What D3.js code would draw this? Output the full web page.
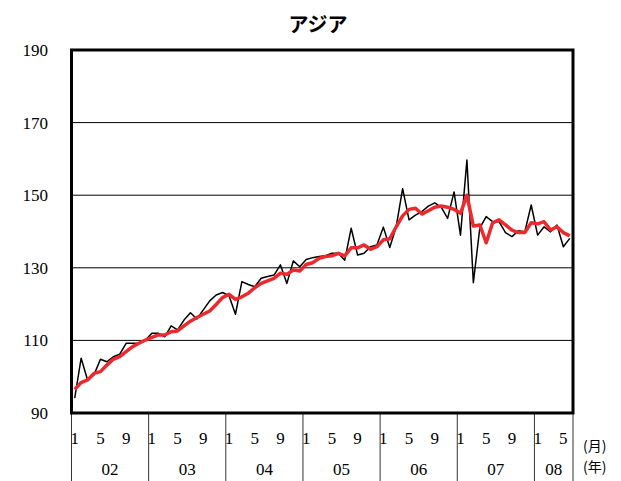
<!DOCTYPE html>
<html>
<head>
<meta charset="utf-8">
<script src="https://cdn.jsdelivr.net/npm/d3@7"></script>
<style>
  body { margin: 0; background: #fff; }
  svg text { fill: #000; }
  svg text.num { font-family: 'Liberation Serif', 'DejaVu Serif', serif; font-size: 17px; }
  svg text.jp { font-family: 'Noto Sans CJK JP', sans-serif; }
</style>
</head>
<body>
<svg id="chart" width="621" height="481"></svg>
<script>
// monthly index, Jan 2002 .. Jun 2008
const years = ['02', '03', '04', '05', '06', '07', '08'];
const monthsPerYear = [12, 12, 12, 12, 12, 12, 6];
const monthTicks = ['1', '5', '9'];
const yTicks = [90, 110, 130, 150, 170, 190];

const actual = [
  94.1, 105.1, 99.1, 100.5, 104.8, 104.1, 105.5, 106.2, 109.2, 109.2, 109.2, 110.1,
  112.0, 112.0, 111.0, 114.0, 112.9, 115.6, 117.6, 115.9, 118.4, 120.9, 122.5, 123.2,
  122.3, 117.2, 126.2, 125.4, 124.8, 127.1, 127.6, 128.0, 130.8, 125.7, 131.9, 130.3,
  132.3, 132.8, 133.1, 133.3, 134.0, 134.0, 132.1, 140.9, 133.5, 134.0, 135.8, 136.3,
  141.2, 135.6, 141.3, 151.8, 143.2, 144.5, 145.5, 147.0, 147.9, 146.7, 143.6, 150.9,
  139.0, 159.7, 125.9, 140.9, 144.1, 142.7, 142.7, 139.7, 138.6, 140.2, 139.9, 147.3,
  139.0, 141.3, 139.9, 141.8, 135.8, 138.1
];

const trend = [
  96.5, 98.4, 99.1, 100.9, 101.4, 103.2, 104.8, 105.5, 106.9, 108.3, 109.2, 110.1,
  110.8, 111.5, 111.5, 112.4, 112.6, 114.0, 115.3, 116.3, 117.2, 118.1, 119.9, 121.8,
  122.7, 121.3, 122.0, 123.0, 124.5, 125.7, 126.4, 127.1, 128.5, 128.2, 129.4, 129.1,
  130.9, 131.4, 132.6, 133.1, 133.3, 134.0, 133.3, 135.5, 135.5, 136.3, 135.1, 135.8,
  137.7, 138.0, 141.3, 144.3, 146.1, 146.4, 144.8, 145.7, 146.7, 147.0, 146.7, 146.1,
  145.0, 150.0, 141.5, 141.8, 136.9, 142.4, 143.2, 141.8, 140.4, 139.7, 139.7, 142.4,
  142.1, 142.7, 140.4, 141.3, 139.7, 138.8
];

const svg = d3.select('#chart');
const plot = {left: 71.5, right: 573, top: 50, bottom: 413};

const total = d3.sum(monthsPerYear);
const x = d3.scaleBand()
    .domain(d3.range(total))
    .range([plot.left, plot.right]);
const xc = (i) => x(i) + x.bandwidth() / 2;
const y = d3.scaleLinear().domain([90, 190]).range([plot.bottom, plot.top]);

// title
svg.append('text')
    .attr('class', 'jp')
    .attr('x', 318)
    .attr('y', 32)
    .attr('text-anchor', 'middle')
    .style('font-size', '20px')
    .style('font-weight', 'bold')
    .text('アジア');

// grid lines
svg.append('g')
    .selectAll('line')
    .data(yTicks.slice(1, -1))
    .join('line')
    .attr('x1', plot.left)
    .attr('x2', plot.right)
    .attr('y1', (d) => y(d))
    .attr('y2', (d) => y(d))
    .attr('stroke', '#000')
    .attr('stroke-width', 1);

// y labels
svg.append('g')
    .selectAll('text')
    .data(yTicks)
    .join('text')
    .attr('class', 'num')
    .attr('x', 48)
    .attr('y', (d) => y(d) + 6)
    .attr('text-anchor', 'end')
    .text((d) => d);

// year dividers, month and year labels
let start = 0;
const yearStarts = monthsPerYear.map((n) => {
  const s = start;
  start += n;
  return s;
});
const under = svg.append('g');
yearStarts.forEach((s, k) => {
  const x0 = x(s);
  under.append('line')
      .attr('x1', x0).attr('x2', x0)
      .attr('y1', plot.bottom).attr('y2', 481)
      .attr('stroke', '#000').attr('stroke-width', 0.8);
  monthTicks.forEach((m) => {
    if (+m > monthsPerYear[k]) return;
    under.append('text')
        .attr('class', 'num')
        .attr('x', xc(s + (+m) - 1))
        .attr('y', 444)
        .attr('text-anchor', 'middle')
        .text(m);
  });
  const x1 = x(s + monthsPerYear[k] - 1) + x.bandwidth();
  under.append('text')
      .attr('class', 'num')
      .attr('x', (x0 + x1) / 2)
      .attr('y', 475)
      .attr('text-anchor', 'middle')
      .text(years[k]);
});
under.append('line')
    .attr('x1', plot.right).attr('x2', plot.right)
    .attr('y1', plot.bottom).attr('y2', 481)
    .attr('stroke', '#000').attr('stroke-width', 0.8);

svg.append('text')
    .attr('class', 'jp')
    .attr('x', 583).attr('y', 451)
    .style('font-size', '14px')
    .text('(月)');
svg.append('text')
    .attr('class', 'jp')
    .attr('x', 583).attr('y', 472)
    .style('font-size', '14px')
    .text('(年)');

// series
const line = d3.line()
    .x((d, i) => xc(i))
    .y((d) => y(d));

svg.append('path')
    .datum(actual)
    .attr('d', line)
    .attr('fill', 'none')
    .attr('stroke', '#000')
    .attr('stroke-width', 1.5)
    .attr('stroke-linejoin', 'round');

svg.append('path')
    .datum(trend)
    .attr('d', line)
    .attr('fill', 'none')
    .attr('stroke', '#ec2a2e')
    .attr('stroke-width', 3.5)
    .attr('stroke-linejoin', 'round');

// frame
svg.append('rect')
    .attr('x', plot.left)
    .attr('y', plot.top)
    .attr('width', plot.right - plot.left)
    .attr('height', plot.bottom - plot.top)
    .attr('fill', 'none')
    .attr('stroke', '#000')
    .attr('stroke-width', 3);
</script>
</body>
</html>
